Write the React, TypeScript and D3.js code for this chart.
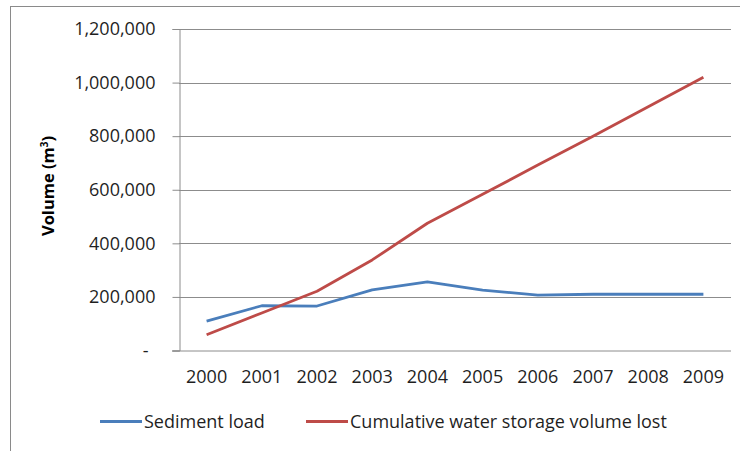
import { useEffect, useRef } from 'react';
import * as d3 from 'd3';

const years = ['2000', '2001', '2002', '2003', '2004', '2005', '2006', '2007', '2008', '2009'];
const sedimentLoad = [110000, 167000, 166000, 226000, 256000, 225000, 207000, 210000, 210000, 210000];
const cumulativeLost = [59000, 140000, 221000, 338000, 475000, 583000, 692000, 800000, 910000, 1020000];
const yTicks = [0, 200000, 400000, 600000, 800000, 1000000, 1200000];
const seriesNames = ['Sediment load', 'Cumulative water storage volume lost'];
const seriesColors = ['#4a7ebb', '#be4b48'];

const W = 740;
const H = 451;
const FONT = "'Open Sans', sans-serif";
const LABEL_SIZE = '18px';
const TEXT_COLOR = '#1f1f1f';

export default function App() {
  const svgRef = useRef<SVGSVGElement>(null);

  useEffect(() => {
    if (!svgRef.current) return;
    const svg = d3.select(svgRef.current);
    svg.selectAll('*').remove();

    const plot = { left: 179, right: 731, top: 29, bottom: 350.5 };

    // outer frame (right/bottom edges run off the picture)
    svg.append('rect')
      .attr('x', 10.5)
      .attr('y', 6.5)
      .attr('width', W + 40)
      .attr('height', H + 40)
      .attr('fill', '#fff')
      .attr('stroke', '#8a8a8a')
      .attr('stroke-width', 1);

    const x = d3.scaleBand<string>().domain(years).range([plot.left, plot.right]).padding(0);
    const y = d3.scaleLinear().domain([0, 1200000]).range([plot.bottom, plot.top]);
    const cx = (d: string) => (x(d) ?? 0) + x.bandwidth() / 2;

    const fmt = d3.format(',');

    // gridlines
    svg.append('g')
      .selectAll('line')
      .data(yTicks.filter((t) => t > 0))
      .join('line')
      .attr('x1', plot.left)
      .attr('x2', plot.right)
      .attr('y1', (d) => Math.round(y(d)) + 0.5)
      .attr('y2', (d) => Math.round(y(d)) + 0.5)
      .attr('stroke', '#8c8c8c')
      .attr('stroke-width', 1);

    // y axis
    const yAxis = svg.append('g')
      .attr('transform', `translate(${plot.left + 0.5},0)`)
      .call(
        d3.axisLeft(y)
          .tickValues(yTicks)
          .tickSize(7)
          .tickPadding(17)
          .tickFormat((d) => (+d === 0 ? '-' : fmt(+d)))
      );
    yAxis.select('.domain').attr('stroke', '#8c8c8c');
    yAxis.selectAll('.tick line').attr('stroke', '#8c8c8c');
    yAxis.selectAll('.tick text')
      .attr('fill', TEXT_COLOR)
      .style('font-family', FONT)
      .style('font-size', LABEL_SIZE)
      .attr('dx', (d) => (+(d as number) === 0 ? -7 : 0));

    // x axis
    const xAxis = svg.append('g')
      .attr('transform', `translate(0,${plot.bottom})`)
      .call(d3.axisBottom(x).tickSize(0).tickPadding(20));
    xAxis.select('.domain').attr('stroke', '#8c8c8c').attr('d', `M${plot.left - 7},0.5H${plot.right}`);
    xAxis.selectAll('.tick text')
      .attr('fill', TEXT_COLOR)
      .style('font-family', FONT)
      .style('font-size', LABEL_SIZE);

    // y title
    const title = svg.append('text')
      .attr('transform', `translate(54,186) rotate(-90)`)
      .attr('text-anchor', 'middle')
      .attr('fill', '#000')
      .style('font-family', FONT)
      .style('font-size', '16.5px')
      .style('font-weight', 'bold');
    title.append('tspan').text('Volume (m');
    title.append('tspan').attr('dy', -6).style('font-size', '10px').text('3');
    title.append('tspan').attr('dy', 6).text(')');

    // lines
    const line = d3.line<number>()
      .x((_, i) => cx(years[i]))
      .y((d) => y(d));

    [sedimentLoad, cumulativeLost].forEach((vals, i) => {
      svg.append('path')
        .datum(vals)
        .attr('fill', 'none')
        .attr('stroke', seriesColors[i])
        .attr('stroke-width', 2.8)
        .attr('stroke-linejoin', 'round')
        .attr('d', line);
    });

    // legend
    const legendX = [100, 306];
    const legendY = 421.5;
    seriesNames.forEach((name, i) => {
      const g = svg.append('g').attr('transform', `translate(${legendX[i]},${legendY})`);
      g.append('line')
        .attr('x1', 0)
        .attr('x2', 42)
        .attr('stroke', seriesColors[i])
        .attr('stroke-width', 2.8);
      g.append('text')
        .attr('x', 44)
        .attr('dy', '0.35em')
        .attr('fill', TEXT_COLOR)
        .style('font-family', FONT)
        .style('font-size', LABEL_SIZE)
        .text(name);
    });
  }, []);

  return (
    <svg
      ref={svgRef}
      width={W}
      height={H}
      style={{ position: 'absolute', left: 0, top: 0, background: '#fff' }}
    />
  );
}
